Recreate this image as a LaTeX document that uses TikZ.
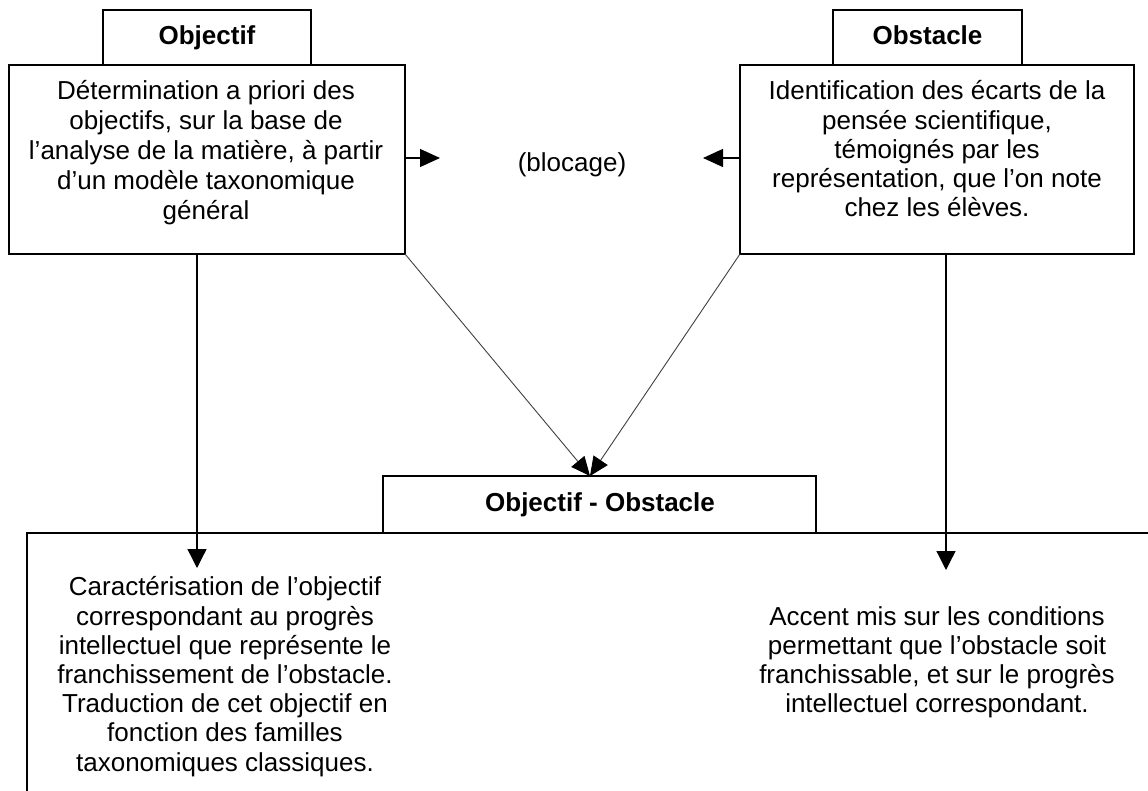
\documentclass[tikz,border=0pt]{standalone}
\usepackage{fontspec}
\setmainfont{Liberation Sans}
\usetikzlibrary{arrows.meta}
\tikzset{
  frame/.style={draw, line width=1.5pt, inner sep=0pt, outer sep=0pt},
  txt/.style={align=center, inner sep=0pt, anchor=base},
  title/.style={inner sep=0pt, anchor=base, font=\fontsize{26}{30}\selectfont\bfseries},
  arr/.style={line width=1.3pt, -{Triangle[length=19pt,width=19pt]}},
  arrh/.style={line width=1.3pt, -{Triangle[length=20pt,width=18pt]}},
  arrd/.style={line width=0.9pt, draw=black!75, -{Triangle[length=19pt,width=17pt,color=black]}}
}
\begin{document}
\begin{tikzpicture}[x=1pt,y=-1pt]
\useasboundingbox (0,0) rectangle (1148,791);
\clip (0,0) rectangle (1148,791);
\fill[white] (0,0) rectangle (1148,791);
% boxes
\node[frame, minimum width=208pt, minimum height=55pt] (objtab) at (207,37.5) {};
\node[frame, minimum width=396pt, minimum height=189pt] (objbox) at (207,159.5) {};
\node[frame, minimum width=189pt, minimum height=55pt] (obstab) at (927.5,37.5) {};
\node[frame, minimum width=394pt, minimum height=189pt] (obsbox) at (937,159.5) {};
\node[frame, minimum width=433pt, minimum height=57pt] (ootab) at (599.5,504.5) {};
\node[frame, minimum width=1173pt, minimum height=367pt] (oobox) at (613.5,716.5) {};
% titles
\node[title] (objtitle) at (207,45) {Objectif};
\node[title] (obstitle) at (927.5,45) {Obstacle};
\node[title] (ootitle) at (600,511) {Objectif - Obstacle};
% texts (base anchor = baseline of the last line)
\node[txt, font=\fontsize{26}{30}\selectfont] (objtxt) at (206,220) {Détermination a priori des\\objectifs, sur la base de\\l’analyse de la matière, à partir\\d’un modèle taxonomique\\général};
\node[txt, font=\fontsize{26}{29.3}\selectfont] (obstxt) at (937,217) {Identification des écarts de la\\pensée scientifique,\\témoignés par les\\représentation, que l’on note\\chez les élèves.};
\node[txt, font=\fontsize{26}{30}\selectfont] (blocage) at (572,172) {(blocage)};
\node[txt, font=\fontsize{26}{29.2}\selectfont] (ootxtl) at (225,771) {Caractérisation de l’objectif\\correspondant au progrès\\intellectuel que représente le\\franchissement de l’obstacle.\\Traduction de cet objectif en\\fonction des familles\\taxonomiques classiques.};
\node[txt, font=\fontsize{26}{29}\selectfont] (ootxtr) at (937,712) {Accent mis sur les conditions\\permettant que l’obstacle soit\\franchissable, et sur le progrès\\intellectuel correspondant.};
% connector ends
\coordinate (blL) at (440,158);
\coordinate (blR) at (703,158);
\coordinate (arrL) at (197,568);
\coordinate (arrR) at (946,570);
\coordinate (ootip) at (590,476);
% connectors
\draw[arrh] (objbox.east |- blL) -- (blL);
\draw[arrh] (obsbox.west |- blR) -- (blR);
\draw[arr] (arrL |- objbox.south) -- (arrL);
\draw[arr] (arrR |- obsbox.south) -- (arrR);
\draw[arrd] (objbox.south east) -- (ootip);
\draw[arrd] (obsbox.south west) -- (ootip);
\end{tikzpicture}
\end{document}
